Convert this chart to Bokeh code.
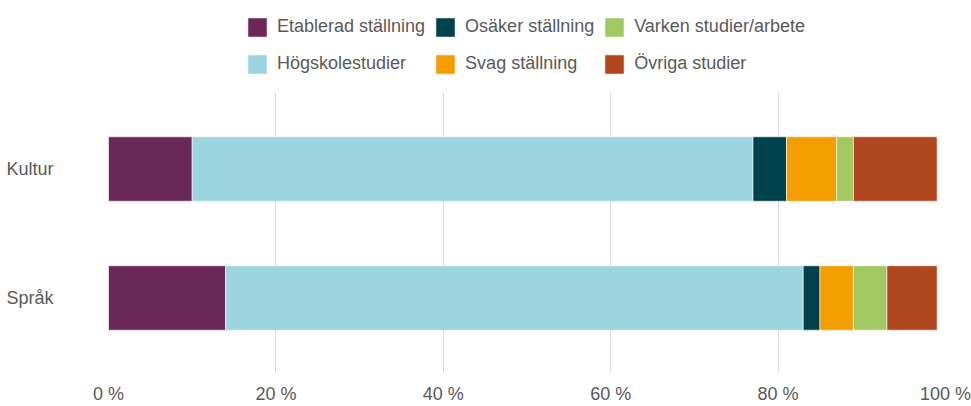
from bokeh.plotting import figure
from bokeh.layouts import column
from bokeh.models import ColumnDataSource, Range1d, FixedTicker, Legend, LegendItem
from bokeh.embed import file_html
from bokeh.resources import INLINE

categories = ["Kultur", "Språk"]
series = ["Etablerad ställning", "Högskolestudier", "Osäker ställning",
          "Svag ställning", "Varken studier/arbete", "Övriga studier"]
etablerad = [10, 14]
hogskole = [67, 69]
osaker = [4, 2]
svag = [6, 4]
varken = [2, 4]
ovriga = [10, 6]
x_ticks = [0, 20, 40, 60, 80, 100]
x_tick_labels = ["0 %", "20 %", "40 %", "60 %", "80 %", "100 %"]

colors = ["#6B2758", "#9CD4E0", "#00424C", "#F49D00", "#A2C961", "#B0461D"]
keys = ["etablerad", "hogskole", "osaker", "svag", "varken", "ovriga"]

ypos = [len(categories) - 1 - i for i in range(len(categories))]
source = ColumnDataSource(dict(y=ypos, etablerad=etablerad, hogskole=hogskole,
                               osaker=osaker, svag=svag, varken=varken, ovriga=ovriga))

FONT = "Liberation Sans"
GREY = "#595959"

# ---- main chart ----
p = figure(width=971, height=314, output_backend="svg", toolbar_location=None,
           x_range=Range1d(0, 100), y_range=Range1d(-0.578, 1.5935),
           min_border_left=108, min_border_right=26, min_border_top=0,
           min_border_bottom=26)
p.outline_line_color = None
p.background_fill_color = "white"
p.border_fill_color = "white"

renderers = p.hbar_stack(keys, y="y", height=0.5, color=colors, source=source,
                         line_color="white", line_alpha=0.6, line_width=1)

p.xaxis.ticker = FixedTicker(ticks=x_ticks)
p.xaxis.major_label_overrides = {t: l for t, l in zip(x_ticks, x_tick_labels)}
p.yaxis.ticker = FixedTicker(ticks=ypos)
p.yaxis.major_label_overrides = {y: c for y, c in zip(ypos, categories)}

for ax in (p.xaxis[0], p.yaxis[0]):
    ax.axis_line_color = None
    ax.major_tick_line_color = None
    ax.minor_tick_line_color = None
    ax.major_label_text_font = FONT
    ax.major_label_text_font_size = "18px"
    ax.major_label_text_color = GREY
p.xaxis.major_label_standoff = 5
p.yaxis.major_label_standoff = 49

p.ygrid.grid_line_color = None
p.xgrid.grid_line_color = "#D9D9D9"
p.xgrid.grid_line_width = 1

# ---- legend strip above the chart ----
leg = figure(width=971, height=92, output_backend="svg", toolbar_location=None,
             x_range=Range1d(0, 100), y_range=Range1d(0, 1),
             x_axis_type=None, y_axis_type=None,
             min_border_left=0, min_border_right=0, min_border_top=0, min_border_bottom=0)
leg.outline_line_color = None
leg.grid.visible = False
leg_renderers = leg.hbar_stack(keys, y="y", height=0.5, color=colors, source=source,
                               line_color="white", line_alpha=0.6)
for r in leg_renderers:
    r.visible = False

# legend laid out row by row: first row, then second row
legend_order = [0, 2, 4, 1, 3, 5]
legend = Legend(items=[LegendItem(label=series[i], renderers=[leg_renderers[i]]) for i in legend_order],
                location=(137, 14), orientation="horizontal", ncols=3,
                glyph_width=24, glyph_height=24, label_standoff=8, spacing=8,
                label_height=29, padding=0, margin=0,
                label_text_font=FONT, label_text_font_size="18px",
                label_text_color=GREY, border_line_color=None,
                background_fill_alpha=0, inactive_fill_alpha=0)
leg.add_layout(legend, "center")

layout = column(leg, p, spacing=0)
open("out.html", "w").write(file_html(layout, INLINE))
